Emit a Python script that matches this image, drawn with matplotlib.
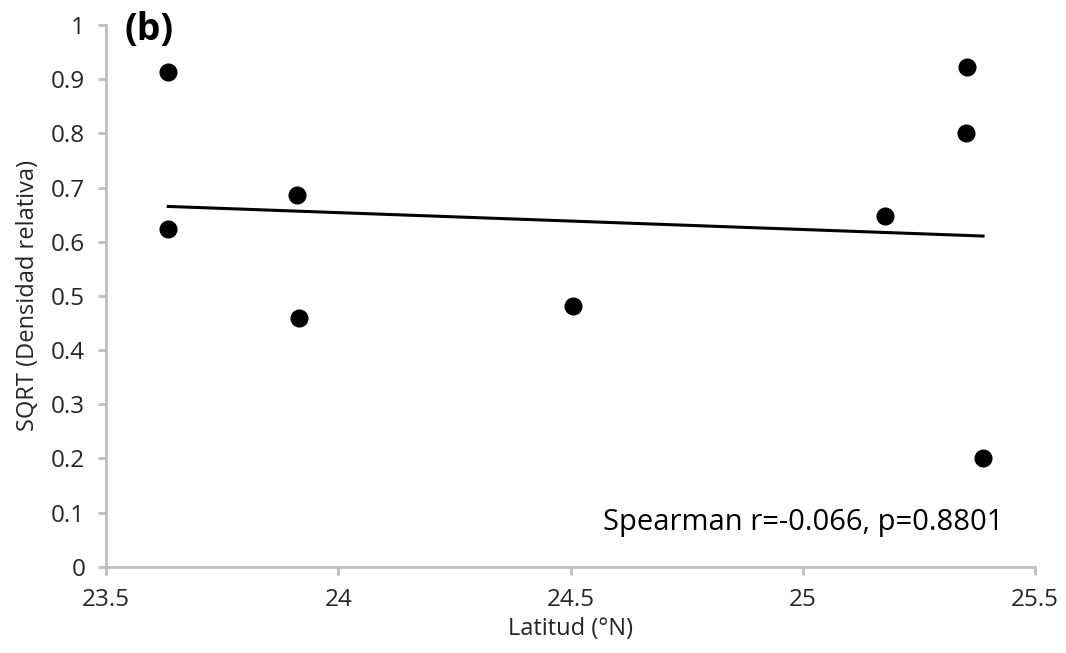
import numpy as np
import matplotlib.pyplot as plt

plt.rcParams['font.family'] = ['Open Sans', 'DejaVu Sans']

# Latitude of each site and sqrt of relative density
latitud = [23.634, 23.634, 23.912, 23.915, 24.505, 25.177, 25.351, 25.353, 25.388]
sqrt_densidad = [0.913, 0.623, 0.686, 0.459, 0.481, 0.647, 0.800, 0.922, 0.200]

x_ticks = [23.5, 24, 24.5, 25, 25.5]
y_ticks = [0, 0.1, 0.2, 0.3, 0.4, 0.5, 0.6, 0.7, 0.8, 0.9, 1]
y_tick_labels = ['0', '0.1', '0.2', '0.3', '0.4', '0.5', '0.6', '0.7', '0.8', '0.9', '1']

fig = plt.figure(figsize=(10.66, 6.53), dpi=100)
ax = fig.add_axes([0.0994, 0.1322, 0.8716, 0.8295])

ax.plot(latitud, sqrt_densidad, 'o', color='black', markersize=12, zorder=3)

# least squares trend line over the sampled range
slope, intercept = np.polyfit(latitud, sqrt_densidad, 1)
xl = np.array([min(latitud), max(latitud)])
ax.plot(xl, slope * xl + intercept, color='black', lw=2.2, zorder=2)

ax.set_xlim(23.5, 25.5)
ax.set_ylim(0, 1)
ax.set_xticks(x_ticks)
ax.set_xticklabels(['23.5', '24', '24.5', '25', '25.5'])
ax.set_yticks(y_ticks)
ax.set_yticklabels(y_tick_labels)

for side in ['top', 'right']:
    ax.spines[side].set_visible(False)
for side in ['left', 'bottom']:
    ax.spines[side].set_color('#BFBFBF')
    ax.spines[side].set_linewidth(2)
ax.tick_params(direction='out', length=6, width=2, color='#BFBFBF',
               labelcolor='#262626', labelsize=17.5, pad=9)

ax.set_xlabel('Latitud (°N)', fontsize=17, color='#262626', labelpad=4)
ax.set_ylabel('SQRT (Densidad relativa)', fontsize=17, color='#262626', labelpad=8)

ax.text(0.02, 0.99, '(b)', transform=ax.transAxes, fontsize=27,
        fontweight='bold', va='center', ha='left', color='black')
ax.text(0.9656, 0.081, 'Spearman r=-0.066, p=0.8801', transform=ax.transAxes,
        fontsize=21, ha='right', va='center', color='black')

fig.savefig('out.png', dpi=100)
